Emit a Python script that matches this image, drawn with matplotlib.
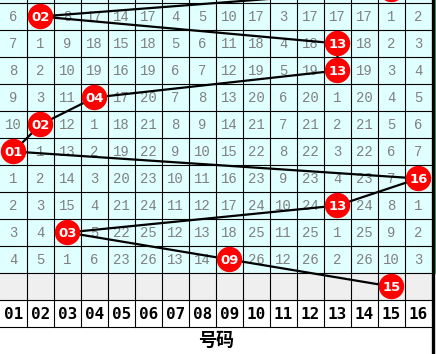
import matplotlib
matplotlib.use("Agg")
import matplotlib.pyplot as plt
from matplotlib.patches import Rectangle, Circle

plt.rcParams['font.family'] = ['Noto Sans CJK SC', 'DejaVu Sans']

# winning number per draw (first one is the draw above, cut off at top)
prev_number = 15
numbers = [2, 13, 13, 4, 2, 1, 16, 13, 3, 9, 15]

# miss counts per row (0 where the number was drawn)
misses = [
    [6, 0, 8, 17, 14, 17, 4, 5, 10, 17, 3, 17, 17, 17, 1, 2],
    [7, 1, 9, 18, 15, 18, 5, 6, 11, 18, 4, 18, 0, 18, 2, 3],
    [8, 2, 10, 19, 16, 19, 6, 7, 12, 19, 5, 19, 0, 19, 3, 4],
    [9, 3, 11, 0, 17, 20, 7, 8, 13, 20, 6, 20, 1, 20, 4, 5],
    [10, 0, 12, 1, 18, 21, 8, 9, 14, 21, 7, 21, 2, 21, 5, 6],
    [0, 1, 13, 2, 19, 22, 9, 10, 15, 22, 8, 22, 3, 22, 6, 7],
    [1, 2, 14, 3, 20, 23, 10, 11, 16, 23, 9, 23, 4, 23, 7, 0],
    [2, 3, 15, 4, 21, 24, 11, 12, 17, 24, 10, 24, 0, 24, 8, 1],
    [3, 4, 0, 5, 22, 25, 12, 13, 18, 25, 11, 25, 1, 25, 9, 2],
    [4, 5, 1, 6, 23, 26, 13, 14, 0, 26, 12, 26, 2, 26, 10, 3],
]
col_labels = ["%02d" % i for i in range(1, 17)]
axis_title = "号码"

W, H = 436, 354
cell = 27.0
top = 3.0
ncol = 16
nrow = len(misses)

fig = plt.figure(figsize=(W / 100, H / 100), dpi=100)
ax = fig.add_axes([0, 0, 1, 1])
ax.set_xlim(0, W / cell)
ax.set_ylim((H - top) / cell, -top / cell)
ax.axis("off")

cyan = "#e0ffff"
ax.add_patch(Rectangle((0, -top / cell), ncol, nrow + top / cell, color=cyan, zorder=0))
ax.add_patch(Rectangle((0, nrow), ncol, 1, color="#efefef", zorder=0))

# grid
bottom = nrow + 2
for k in range(1, ncol):
    ax.plot([k, k], [-top / cell, bottom], color="black", lw=0.8, zorder=1)
for r in range(0, bottom + 1):
    ax.plot([0, ncol], [r, r], color="black", lw=0.8, zorder=1)
ax.plot([ncol + 0.04, ncol + 0.04], [-top / cell, H / cell], color="black", lw=2.4, zorder=3)
ax.add_patch(Rectangle((ncol + 0.09, -top / cell), 0.1, nrow + top / cell,
                       color="#22c070", zorder=2))

# miss counts
for r, row in enumerate(misses):
    for c, v in enumerate(row):
        if v:
            ax.text(c + 0.5, r + 0.52, str(v), ha="center", va="center",
                    color="#808080", fontsize=10, family="Liberation Mono", zorder=2)

# trend line
xs = [prev_number - 0.5] + [n - 0.5 for n in numbers]
ys = [-0.5] + [r + 0.5 for r in range(len(numbers))]
ax.plot(xs, ys, color="black", lw=1.6, zorder=4)

for r, n in enumerate(numbers):
    ax.add_patch(Circle((n - 0.5, r + 0.5), 12 / cell, color="#ff0000", zorder=5))
    ax.text(n - 0.5, r + 0.52, "%02d" % n, ha="center", va="center",
            color="white", fontsize=9.5, fontweight="bold", family="DejaVu Sans", zorder=6)
ax.add_patch(Circle((prev_number - 0.5, -0.5), 12 / cell, color="#ff0000", zorder=5))

for c, lab in enumerate(col_labels):
    ax.text(c + 0.5, nrow + 1.52, lab, ha="center", va="center",
            color="black", fontsize=11.5, fontweight="bold", family="DejaVu Sans Mono")

ax.text(ncol / 2, (340 - top) / cell, axis_title, ha="center", va="center",
        fontsize=13, fontweight="bold")

fig.savefig("out.png", dpi=100)
